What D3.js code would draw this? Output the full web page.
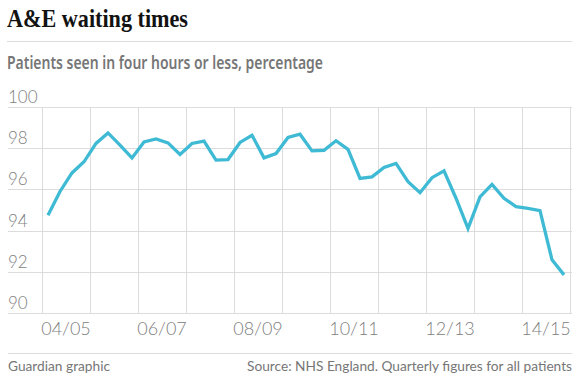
<!DOCTYPE html>
<html>
<head>
<meta charset="utf-8">
<script src="https://cdn.jsdelivr.net/npm/d3@7"></script>
<style>
  body { margin: 0; background: #fff; }
  svg { display: block; }
</style>
</head>
<body>
<svg id="chart" width="579" height="386"></svg>
<script>
// Data (quarterly, 2004/05 Q1 to 2014/15 Q4)
const startYear = 2004;
const endYear = 2015;
const labelYears = [2004, 2006, 2008, 2010, 2012, 2014];
const yearLabels = ["04/05", "06/07", "08/09", "10/11", "12/13", "14/15"];
const yTicks = [90, 92, 94, 96, 98, 100];
const quarterly = [
  94.74, 95.9, 96.8, 97.34,
  98.23, 98.74, 98.15, 97.53,
  98.3, 98.45, 98.26, 97.7,
  98.23, 98.34, 97.42, 97.45,
  98.28, 98.63, 97.53, 97.74,
  98.52, 98.68, 97.87, 97.9,
  98.36, 97.94, 96.53, 96.61,
  97.07, 97.26, 96.37, 95.84,
  96.57, 96.9, 95.57, 94.11,
  95.64, 96.24, 95.57, 95.16,
  95.08, 94.97, 92.58, 91.85
];

const svg = d3.select("#chart");

const x = d3.scaleLinear().domain([startYear, endYear]).range([42, 570]);
const y = d3.scaleLinear().domain([90, 100]).range([313, 107]);

const grey = "#767676";
const axisGrey = "#808080";
const gridCol = "#dcdcdc";

// Title + rule
svg.append("text")
    .attr("x", 7).attr("y", 27)
    .attr("font-family", "'Liberation Serif', serif")
    .attr("font-weight", "bold")
    .attr("font-size", 25)
    .attr("fill", "#121212")
    .attr("textLength", 181)
    .attr("lengthAdjust", "spacingAndGlyphs")
    .text("A&E waiting times");

svg.append("line")
    .attr("x1", 7).attr("x2", 572).attr("y1", 41.5).attr("y2", 41.5)
    .attr("stroke", gridCol);

svg.append("text")
    .attr("x", 7).attr("y", 69)
    .attr("font-family", "'Noto Sans', sans-serif")
    .attr("font-weight", 600)
    .attr("font-size", 17)
    .attr("fill", grey)
    .attr("textLength", 316)
    .attr("lengthAdjust", "spacingAndGlyphs")
    .text("Patients seen in four hours or less, percentage");

// Gridlines
const grid = svg.append("g");
grid.selectAll(".hgrid")
    .data(yTicks)
    .join("line")
    .attr("class", "hgrid")
    .attr("x1", 8).attr("x2", 572)
    .attr("y1", d => Math.round(y(d)) + 0.5)
    .attr("y2", d => Math.round(y(d)) + 0.5)
    .attr("stroke", gridCol);

grid.selectAll(".vgrid")
    .data(d3.range(startYear, endYear + 1))
    .join("line")
    .attr("class", "vgrid")
    .attr("x1", d => Math.round(x(d)) + 0.5)
    .attr("x2", d => Math.round(x(d)) + 0.5)
    .attr("y1", y(100)).attr("y2", y(90))
    .attr("stroke", gridCol);

// Y labels sit above their gridline
svg.append("g").selectAll("text")
    .data(yTicks)
    .join("text")
    .attr("x", 8)
    .attr("y", d => y(d) - 4)
    .attr("font-family", "Lato, sans-serif")
    .attr("font-weight", 300)
    .attr("font-size", 17)
    .attr("fill", axisGrey)
    .text(d => d);

// X labels, centred in their year
svg.append("g").selectAll("text")
    .data(labelYears)
    .join("text")
    .attr("x", d => x(d + 0.5))
    .attr("y", 335)
    .attr("text-anchor", "middle")
    .attr("font-family", "Lato, sans-serif")
    .attr("font-weight", 300)
    .attr("font-size", 18)
    .attr("fill", axisGrey)
    .text((d, i) => yearLabels[i]);

// Line
const line = d3.line()
    .x((d, i) => x(startYear + (i + 0.5) / 4))
    .y(d => y(d));

svg.append("path")
    .datum(quarterly)
    .attr("d", line)
    .attr("fill", "none")
    .attr("stroke", "#3fbad5")
    .attr("stroke-width", 3.3)
    .attr("stroke-linejoin", "miter");

// Footer
svg.append("line")
    .attr("x1", 8).attr("x2", 572).attr("y1", 353.5).attr("y2", 353.5)
    .attr("stroke", gridCol);

svg.append("text")
    .attr("x", 8).attr("y", 371)
    .attr("font-family", "Lato, sans-serif")
    .attr("font-size", 14)
    .attr("fill", grey)
    .attr("textLength", 102)
    .attr("lengthAdjust", "spacingAndGlyphs")
    .text("Guardian graphic");

svg.append("text")
    .attr("x", 247).attr("y", 371)
    .attr("font-family", "Lato, sans-serif")
    .attr("font-size", 14)
    .attr("fill", grey)
    .attr("textLength", 325)
    .attr("lengthAdjust", "spacingAndGlyphs")
    .text("Source: NHS England. Quarterly figures for all patients");
</script>
</body>
</html>
